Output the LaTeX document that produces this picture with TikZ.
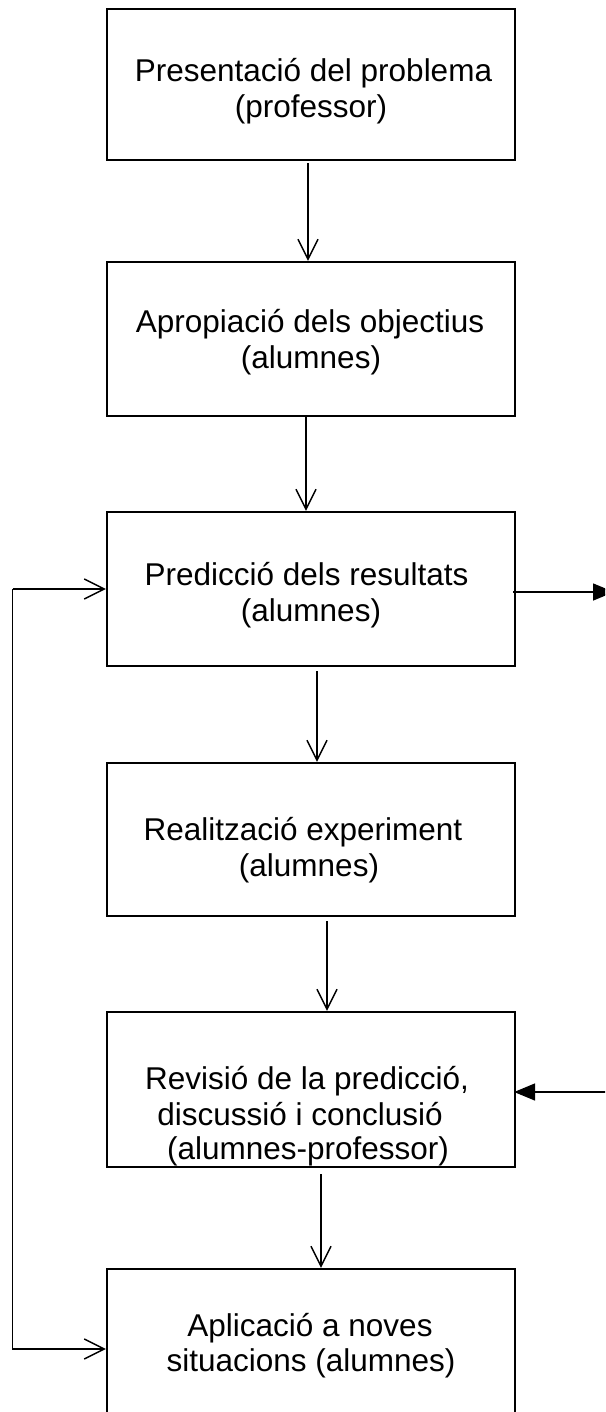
\documentclass[tikz,border=0pt]{standalone}
\usepackage{fontspec}
\setmainfont{Liberation Sans}
\usetikzlibrary{arrows.meta}
\begin{document}
\begin{tikzpicture}[x=1pt,y=-1pt,
  box/.style={draw=black, line width=2.2pt, minimum width=408pt, inner sep=0pt},
  txt/.style={anchor=base, inner sep=0pt, font=\fontsize{31.5}{30}\selectfont},
  conn/.style={draw=black, line width=1.5pt},
  openarrow/.style={conn, -{Straight Barb[length=20pt,width=20pt,line width=1.5pt]}},
  filledarrow/.style={conn, -{Triangle[length=21pt,width=17pt]}}
]
\clip (0,0) rectangle (605,1412);
\fill[white] (0,0) rectangle (605,1412);

% boxes
\node[box, minimum height=151pt] (b1) at (311,84.5) {};
\node[box, minimum height=154pt] (b2) at (311,339) {};
\node[box, minimum height=154pt] (b3) at (311,589) {};
\node[box, minimum height=153pt] (b4) at (311,839.5) {};
\node[box, minimum height=155pt] (b5) at (311,1089.5) {};
\node[box, minimum height=180pt] (b6) at (311,1359) {};

% texts
\node[txt] (t1a) at (313.5,82) {Presentació del problema};
\node[txt] (t1b) at (311,118) {(professor)};
\node[txt] (t2a) at (310,332) {Apropiació dels objectius};
\node[txt] (t2b) at (311,368) {(alumnes)};
\node[txt] (t3a) at (306.5,585) {Predicció dels resultats};
\node[txt] (t3b) at (311,621) {(alumnes)};
\node[txt] (t4a) at (303,840) {Realització experiment};
\node[txt] (t4b) at (309,876) {(alumnes)};
\node[txt] (t5a) at (307,1089) {Revisió de la predicció,};
\node[txt] (t5b) at (300,1125) {discussió i conclusió};
\node[txt] (t5c) at (308,1159) {(alumnes-professor)};
\node[txt] (t6a) at (310,1336) {Aplicació a noves};
\node[txt] (t6b) at (311,1371) {situacions (alumnes)};

% vertical arrows
\draw[openarrow] ([xshift=-3pt,yshift=-2pt]b1.south) -- ([xshift=-3pt]b2.north);
\draw[openarrow] ([xshift=-5pt,yshift=-0pt]b2.south) -- ([xshift=-5pt]b3.north);
\draw[openarrow] ([xshift=6pt,yshift=-4pt]b3.south) -- ([xshift=6pt]b4.north);
\draw[openarrow] ([xshift=16pt,yshift=-4pt]b4.south) -- ([xshift=16pt]b5.north);
\draw[openarrow] ([xshift=10pt,yshift=-6pt]b5.south) -- ([xshift=10pt]b6.north);

% left feedback line
\coordinate (L1) at (12.5,589);
\coordinate (L2) at (12.5,1349);
\draw[openarrow] (L1) -- (b3.west |- L1);
\draw[openarrow] (L1) -- (L2) -- (b6.west |- L2);

% right arrows
\coordinate (R1) at (614,592);
\coordinate (R2) at (620,1092);
\draw[filledarrow] ([xshift=-3pt]b3.east |- R1) -- (R1);
\draw[filledarrow] (R2) -- ([xshift=-2pt]b5.east |- R2);
\end{tikzpicture}
\end{document}
